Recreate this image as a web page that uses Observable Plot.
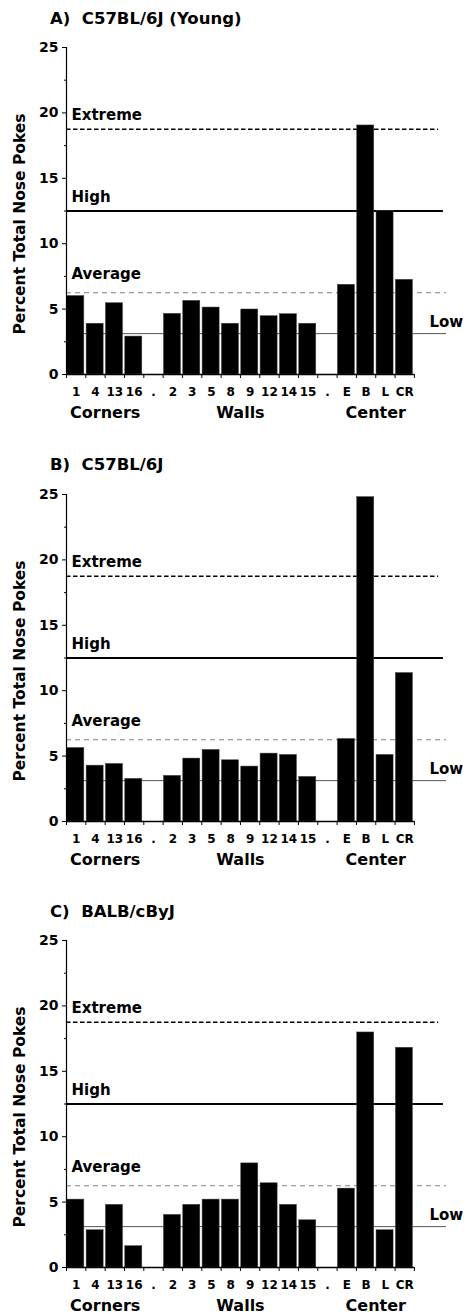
<!DOCTYPE html>
<html><head><meta charset="utf-8">
<script src="https://cdn.jsdelivr.net/npm/d3@7"></script>
<script src="https://cdn.jsdelivr.net/npm/@observablehq/plot@0.6"></script>
<style>
body{margin:0;background:#fff;}
.block{position:relative;width:466px;height:446.5px;}
.title{position:absolute;left:50px;top:10.5px;font:bold 16.5px "DejaVu Sans";line-height:1;white-space:pre;color:#000;}
.block svg{position:absolute;left:0;top:30px;}
</style></head><body><div id="root"></div>
<script>
const categories = ["1","4","13","16",".","2","3","5","8","9","12","14","15",".","E","B","L","CR"];
const groups = [{name:"Corners",from:0,to:3},{name:"Walls",from:5,to:12},{name:"Center",from:14,to:17}];
const titles = ["A)  C57BL/6J (Young)","B)  C57BL/6J","C)  BALB/cByJ"];
const valuesA = [6.0,3.88,5.45,2.9,null,4.64,5.63,5.12,3.88,4.97,4.46,4.61,3.88,null,6.86,19.04,12.5,7.24];
const valuesB = [5.62,4.27,4.40,3.26,null,3.49,4.81,5.47,4.68,4.20,5.19,5.09,3.41,null,6.31,24.8,5.09,11.35];
const valuesC = [5.19,2.85,4.79,1.63,null,4.02,4.79,5.19,5.19,7.96,6.44,4.79,3.61,null,6.03,17.97,2.85,16.8];
const refLines = [{name:"Extreme",value:18.75},{name:"High",value:12.5},{name:"Average",value:6.25},{name:"Low",value:3.125}];
const yTicks = [0,5,10,15,20,25];
const yMinorTicks = [2.5,7.5,12.5,17.5,22.5];
const yLabel = "Percent Total Nose Pokes";

const n = categories.length;
const xMax = n + 1.66;
const lineStyle = {
  Extreme:{stroke:"#000",strokeWidth:1.5,dash:"4.5,2.5",end:n+1.25,labelX:0,dx:5,dy:-9},
  High:{stroke:"#000",strokeWidth:2,dash:null,end:n+1.5,labelX:0,dx:5,dy:-9},
  Average:{stroke:"#808080",strokeWidth:1.2,dash:"5,4",end:xMax,labelX:0,dx:5,dy:-14},
  Low:{stroke:"#555",strokeWidth:1,dash:null,end:xMax,labelX:n+0.78,dx:0,dy:-7}
};

function panel(title, values) {
  const data = categories.map((c,i)=>({c,i,v:values[i]})).filter(d=>d.v!=null);
  const marks = [];
  for (const r of refLines) {
    const s = lineStyle[r.name];
    marks.push(Plot.ruleY([r], {y:"value", x1:0, x2:s.end, stroke:s.stroke, strokeWidth:s.strokeWidth, strokeDasharray:s.dash||undefined}));
    marks.push(Plot.text([r], {y:"value", x:s.labelX, text:"name", textAnchor:"start", lineAnchor:"bottom", dx:s.dx, dy:s.dy, fontSize:15, fill:"#000"}));
  }
  marks.push(Plot.rectY(data, {x1:d=>d.i, x2:d=>d.i+1, y:"v", fill:"#000", stroke:"#444", strokeWidth:0.5, insetLeft:0.8, insetRight:1.5}));
  marks.push(Plot.ruleY([0], {x1:0, x2:n, stroke:"#000", strokeWidth:1.5}));
  marks.push(Plot.ruleX([0], {y1:0, y2:d3.max(yTicks), stroke:"#000", strokeWidth:1.2}));
  marks.push(Plot.axisY({ticks:yTicks, tickSize:4, tickPadding:4, fontSize:14, label:null, stroke:"#000"}));
  marks.push(Plot.axisY({ticks:yMinorTicks, tickSize:2, tickFormat:()=>"", label:null, stroke:"#000"}));
  marks.push(Plot.axisX({ticks:d3.range(0,n+1), tickSize:4, tickFormat:()=>"", label:null, stroke:"#000"}));
  marks.push(Plot.text(categories, {x:(d,i)=>i+0.5, text:d=>d, frameAnchor:"bottom", lineAnchor:"bottom", dy:21, fontSize:12, fill:"#000"}));
  marks.push(Plot.text(groups, {x:g=>(g.from+g.to+1)/2, text:"name", frameAnchor:"bottom", lineAnchor:"bottom", dy:43, fontSize:16, fill:"#000"}));
  marks.push(Plot.text([yLabel], {text:d=>d, frameAnchor:"left", textAnchor:"middle", lineAnchor:"middle", rotate:-90, dx:-46, dy:13, fontSize:15.5, fill:"#000"}));

  const svg = Plot.plot({
    width:466, height:417,
    marginLeft:66, marginRight:20, marginTop:17, marginBottom:73,
    x:{type:"linear", domain:[0,xMax], axis:null},
    y:{domain:[0,25], axis:null},
    style:{fontFamily:"DejaVu Sans", fontWeight:"bold", color:"#000", background:"#fff", overflow:"visible"},
    marks
  });
  const block = document.createElement("div");
  block.className = "block";
  const t = document.createElement("div");
  t.className = "title";
  t.textContent = title;
  block.appendChild(t);
  block.appendChild(svg);
  return block;
}

const root = document.getElementById("root");
[valuesA, valuesB, valuesC].forEach((v,k)=>root.appendChild(panel(titles[k], v)));
</script></body></html>
